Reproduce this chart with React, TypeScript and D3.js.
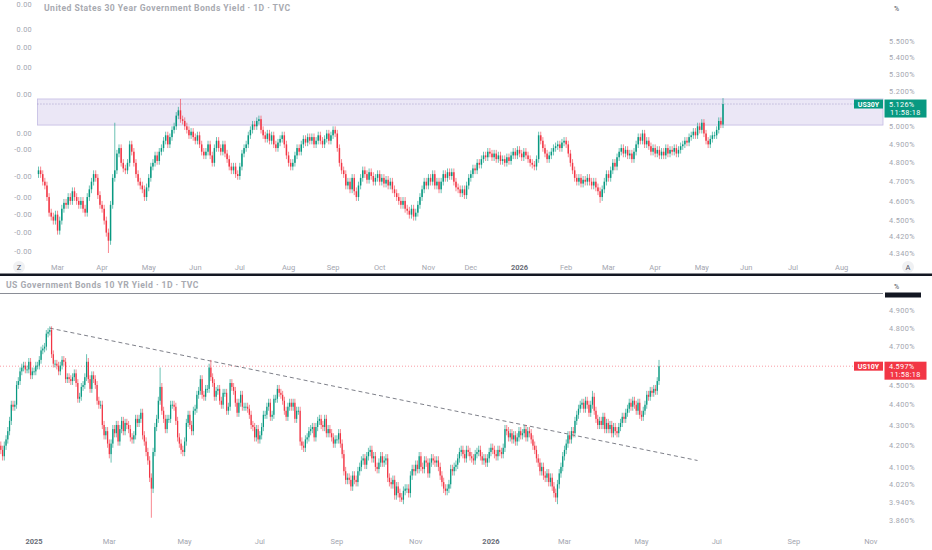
import React from "react";
import * as d3 from "d3";

// ---------------- DATA ----------------
// US 30Y daily closes (%), one row per week, starting Tue 2025-02-18
const us30Start = "2025-02-18";
const us30FirstOpen = 4.74;
const us30Close: number[] = [
  4.76, 4.74, 4.70, 4.68,
  4.62, 4.54, 4.52, 4.50, 4.53,
  4.45, 4.50, 4.56, 4.59, 4.58,
  4.62, 4.60, 4.65, 4.62, 4.60,
  4.58, 4.60, 4.56, 4.54, 4.62,
  4.66, 4.70, 4.74, 4.72, 4.63,
  4.58, 4.56, 4.50, 4.44, 4.40,
  4.58, 4.72, 4.76, 4.85, 4.88,
  4.80, 4.77, 4.76, 4.80, 4.90,
  4.86, 4.80, 4.74, 4.70, 4.68,
  4.66, 4.62, 4.67, 4.72, 4.78,
  4.80, 4.84, 4.81, 4.86, 4.88,
  4.92, 4.95, 4.90, 4.94, 4.98,
  5.00, 5.06, 5.09, 5.04, 5.03,
  5.00, 4.98, 4.95, 4.97, 4.94,
  4.92, 4.95, 4.90, 4.86, 4.84,
  4.86, 4.90, 4.84, 4.80, 4.88,
  4.92, 4.88, 4.86, 4.90, 4.85,
  4.82, 4.78, 4.76, 4.78, 4.74,
  4.73, 4.78, 4.85, 4.88, 4.90,
  4.95, 4.98, 5.01, 5.00, 5.03,
  5.04, 4.98, 4.95, 4.93, 4.96,
  4.92, 4.95, 4.90, 4.88, 4.91,
  4.93, 4.95, 4.90, 4.84, 4.80,
  4.78, 4.80, 4.84, 4.88, 4.86,
  4.90, 4.93, 4.91, 4.94, 4.92,
  4.94, 4.90, 4.92, 4.95, 4.92,
  4.90, 4.93, 4.96, 4.92, 4.95,
  4.98, 4.96, 4.88, 4.80, 4.76,
  4.74, 4.68, 4.70, 4.66, 4.72,
  4.65, 4.62, 4.68, 4.72, 4.76,
  4.74, 4.71, 4.75, 4.73, 4.70,
  4.72, 4.74, 4.70, 4.72, 4.69,
  4.71, 4.68, 4.70, 4.66, 4.64,
  4.62, 4.60, 4.58, 4.60, 4.56,
  4.55, 4.53, 4.56, 4.52, 4.54,
  4.58, 4.62, 4.66, 4.70, 4.68,
  4.72, 4.70, 4.74, 4.68, 4.70,
  4.66, 4.70, 4.74, 4.72, 4.75,
  4.73, 4.75, 4.70, 4.67, 4.66,
  4.64, 4.66, 4.63, 4.68, 4.72,
  4.74, 4.77, 4.76, 4.80, 4.79,
  4.82, 4.84, 4.83, 4.86, 4.85,
  4.83, 4.85, 4.82, 4.84, 4.81,
  4.82, 4.80, 4.83, 4.81, 4.84,
  4.86, 4.84, 4.87, 4.85, 4.83,
  4.86, 4.84, 4.82, 4.80, 4.79,
  4.78, 4.82, 4.95, 4.92, 4.88,
  4.85, 4.82, 4.84, 4.86, 4.88,
  4.89, 4.90, 4.88, 4.91, 4.92,
  4.90, 4.85, 4.80, 4.76, 4.72,
  4.70, 4.72, 4.69, 4.71, 4.70,
  4.72, 4.70, 4.68, 4.70, 4.67,
  4.65, 4.62, 4.66, 4.70, 4.74,
  4.72, 4.76, 4.80, 4.78, 4.83,
  4.86, 4.88, 4.85, 4.87, 4.84,
  4.85, 4.82, 4.86, 4.90, 4.94,
  4.92, 4.96, 4.90, 4.92, 4.89,
  4.86, 4.88, 4.85, 4.87, 4.84,
  4.86, 4.84, 4.88, 4.85, 4.87,
  4.86, 4.88, 4.85, 4.87, 4.89,
  4.90, 4.92, 4.91, 4.94, 4.95,
  4.97, 4.95, 5.00, 4.98, 5.02,
  4.96, 4.92, 4.90, 4.93, 4.95,
  4.95, 4.98, 5.03, 5.01, 5.126,
];
const us30Spikes = [
  { date: "2025-04-04", low: 4.34 },
  { date: "2025-04-09", high: 5.02 },
  { date: "2025-05-22", high: 5.155 },
  { date: "2025-07-15", high: 5.06 },
  { date: "2025-09-02", high: 5.0 },
  { date: "2025-10-22", low: 4.51 },
  { date: "2026-02-24", low: 4.59 },
  { date: "2026-05-15", high: 5.16 },
];
const us30Last = 5.126;
const us30Zone = [5.007, 5.155];
const us30Ticks = [5.5, 5.4, 5.3, 5.2, 5.0, 4.9, 4.8, 4.7, 4.6, 4.5, 4.42, 4.34];
const us30LeftTicks = [5.73, 5.57, 5.46, 5.34, 5.18, 4.96, 4.87, 4.73, 4.62, 4.53, 4.44, 4.35];
const us30LeftLabels = ["0.00", "0.00", "0.00", "0.00", "0.00", "0.00", "-0.00", "-0.00", "-0.00", "-0.00", "-0.00", "-0.00"];

// US 10Y daily closes (%), one row per week, starting Thu 2024-12-05
const us10Start = "2024-12-05";
const us10FirstOpen = 4.2;
const us10Close: number[] = [
  4.18, 4.15,
  4.20, 4.23, 4.27, 4.32, 4.40,
  4.39, 4.40, 4.50, 4.52, 4.57,
  4.59, 4.60, 4.58, 4.58, 4.62,
  4.55, 4.57, 4.57, 4.60, 4.60,
  4.63, 4.68, 4.69, 4.70, 4.77,
  4.78, 4.79, 4.66, 4.61, 4.61,
  4.60, 4.57, 4.60, 4.63, 4.62,
  4.53, 4.54, 4.53, 4.52, 4.54,
  4.56, 4.51, 4.43, 4.44, 4.49,
  4.50, 4.54, 4.62, 4.53, 4.48,
  4.55, 4.53, 4.50, 4.42, 4.40,
  4.40, 4.30, 4.25, 4.27, 4.21,
  4.16, 4.21, 4.28, 4.26, 4.30,
  4.22, 4.28, 4.32, 4.27, 4.31,
  4.30, 4.28, 4.24, 4.23, 4.25,
  4.33, 4.31, 4.33, 4.36, 4.25,
  4.22, 4.17, 4.13, 4.05, 4.00,
  4.17, 4.29, 4.33, 4.42, 4.49,
  4.37, 4.33, 4.28, 4.33, 4.33,
  4.40, 4.40, 4.39, 4.32, 4.24,
  4.21, 4.18, 4.17, 4.22, 4.31,
  4.35, 4.30, 4.27, 4.37, 4.38,
  4.45, 4.47, 4.53, 4.45, 4.44,
  4.48, 4.48, 4.59, 4.54, 4.51,
  4.44, 4.47, 4.48, 4.42, 4.40,
  4.46, 4.46, 4.37, 4.39, 4.51,
  4.49, 4.47, 4.41, 4.36, 4.41,
  4.45, 4.39, 4.39, 4.39, 4.38,
  4.35, 4.30, 4.29, 4.24, 4.28,
  4.23, 4.25, 4.29, 4.35, 4.35,
  4.39, 4.41, 4.34, 4.35, 4.43,
  4.43, 4.48, 4.46, 4.45, 4.42,
  4.37, 4.34, 4.39, 4.41, 4.39,
  4.41, 4.33, 4.37, 4.37, 4.22,
  4.20, 4.19, 4.23, 4.24, 4.27,
  4.28, 4.29, 4.24, 4.29, 4.32,
  4.33, 4.30, 4.29, 4.33, 4.26,
  4.28, 4.26, 4.24, 4.21, 4.23,
  4.23, 4.26, 4.21, 4.16, 4.08,
  4.04, 4.05, 4.04, 4.01, 4.06,
  4.04, 4.03, 4.08, 4.10, 4.13,
  4.14, 4.11, 4.15, 4.17, 4.18,
  4.14, 4.15, 4.10, 4.09, 4.12,
  4.15, 4.12, 4.13, 4.14, 4.05,
  4.03, 4.02, 4.04, 3.97, 4.01,
  3.98, 3.96, 3.95, 3.99, 4.00,
  4.00, 3.98, 4.06, 4.09, 4.08,
  4.11, 4.09, 4.15, 4.10, 4.09,
  4.13, 4.12, 4.07, 4.12, 4.14,
  4.13, 4.12, 4.13, 4.10, 4.06,
  4.03, 4.00, 3.99, 4.00, 4.02,
  4.09, 4.08, 4.10, 4.11, 4.14,
  4.17, 4.18, 4.16, 4.14, 4.18,
  4.17, 4.15, 4.14, 4.13, 4.16,
  4.17, 4.18, 4.15, 4.13, 4.14,
  4.12, 4.14, 4.17, 4.19, 4.18,
  4.16, 4.15, 4.18, 4.17, 4.16,
  4.19, 4.28, 4.27, 4.24, 4.26,
  4.23, 4.25, 4.22, 4.24, 4.27,
  4.25, 4.26, 4.28, 4.24, 4.27,
  4.26, 4.23, 4.20, 4.18, 4.14,
  4.12, 4.08, 4.10, 4.06, 4.05,
  4.07, 4.03, 4.05, 4.01, 3.98,
  3.96, 4.02, 4.07, 4.10, 4.15,
  4.18, 4.21, 4.25, 4.23, 4.27,
  4.26, 4.32, 4.35, 4.38, 4.40,
  4.41, 4.38, 4.42, 4.40, 4.36,
  4.40, 4.44, 4.37, 4.33, 4.30,
  4.32, 4.30, 4.34, 4.28, 4.31,
  4.28, 4.30, 4.26, 4.29, 4.27,
  4.26, 4.29, 4.31, 4.34, 4.33,
  4.36, 4.38, 4.41, 4.39, 4.42,
  4.40, 4.37, 4.41, 4.35, 4.34,
  4.37, 4.40, 4.45, 4.44, 4.47,
  4.46, 4.48, 4.47, 4.52, 4.597,
];
const us10Spikes = [
  { date: "2025-02-12", high: 4.66 },
  { date: "2025-03-04", low: 4.12 },
  { date: "2025-04-04", low: 3.87 },
  { date: "2025-04-11", high: 4.59 },
  { date: "2025-05-22", high: 4.63 },
  { date: "2025-10-22", low: 3.94 },
  { date: "2026-02-24", low: 3.93 },
  { date: "2026-03-24", high: 4.47 },
  { date: "2026-05-15", high: 4.63 },
];
const us10Last = 4.597;
const us10Ticks = [4.9, 4.8, 4.7, 4.5, 4.4, 4.3, 4.2, 4.1, 4.02, 3.94, 3.86];
const us10Trend = [
  { date: "2025-01-14", value: 4.8 },
  { date: "2026-06-16", value: 4.13 },
];

// ---------------- HELPERS ----------------
const UP = "#089981";
const DOWN = "#f23645";
const FONT = "Roboto, 'Open Sans', sans-serif";
const AXIS = "#a3a6af";
const fmtKey = d3.utcFormat("%Y-%m-%d");

function weekdays(start: string, end: string): Date[] {
  const out: Date[] = [];
  const d = new Date(start + "T00:00:00Z");
  const e = new Date(end + "T00:00:00Z");
  while (d <= e) {
    const wd = d.getUTCDay();
    if (wd !== 0 && wd !== 6) out.push(new Date(d));
    d.setUTCDate(d.getUTCDate() + 1);
  }
  return out;
}

type Spike = { date: string; high?: number; low?: number };

function buildCandles(dates: Date[], closes: number[], firstOpen: number, spikes: Spike[], pad: number) {
  const sm = new Map(spikes.map((s) => [s.date, s]));
  return closes.map((c, i) => {
    const o = i === 0 ? firstOpen : closes[i - 1];
    const s = sm.get(fmtKey(dates[i]));
    let h = Math.max(o, c) + pad;
    let l = Math.min(o, c) - pad;
    if (s && s.high !== undefined) h = s.high;
    if (s && s.low !== undefined) l = s.low;
    return { i, o, h, l, c };
  });
}

type PanelProps = {
  start: string;
  futureEnd: string;
  closes: number[];
  firstOpen: number;
  spikes: Spike[];
  xFirst: number;
  xLast: number;
  yDomain: [number, number];
  yRange: [number, number];
  clipY: [number, number];
  ticks: number[];
  tickX: number;
  monthEvery: number;
  monthY: number;
  skipFirstMonth: boolean;
  id: string;
};

function useScales(p: PanelProps) {
  const all = weekdays(p.start, p.futureEnd);
  const n = p.closes.length;
  const x = d3.scaleLinear().domain([0, n - 1]).range([p.xFirst, p.xLast]);
  const y = d3.scaleLog().domain(p.yDomain).range(p.yRange);
  const step = x(1) - x(0);
  const dateIndex = new Map(all.map((d, i) => [fmtKey(d), i]));
  return { all, x, y, step, dateIndex };
}

function Candles({ p, x, y, step, dates }: any) {
  const data = buildCandles(dates, p.closes, p.firstOpen, p.spikes, 0.02);
  const bw = Math.max(1, step * 0.7);
  return (
    <g clipPath={`url(#clip-${p.id})`}>
      {data.map((d) => {
        const col = d.c >= d.o ? UP : DOWN;
        const cx = x(d.i);
        const yt = y(Math.max(d.o, d.c));
        const yb = y(Math.min(d.o, d.c));
        return (
          <g key={d.i}>
            <line x1={cx} x2={cx} y1={y(d.h)} y2={y(d.l)} stroke={col} strokeOpacity={0.75} strokeWidth={0.8} />
            <rect x={cx - bw / 2} y={yt} width={bw} height={Math.max(0.9, yb - yt)} fill={col} />
          </g>
        );
      })}
    </g>
  );
}

function MonthLabels({ all, x, every, y, skipFirst }: any) {
  const seen = new Set<string>();
  const items: { i: number; d: Date }[] = [];
  all.forEach((d: Date, i: number) => {
    const k = `${d.getUTCFullYear()}-${d.getUTCMonth()}`;
    if (!seen.has(k)) {
      seen.add(k);
      items.push({ i, d });
    }
  });
  const list = items.filter((it, j) => !(skipFirst && j === 0) && it.d.getUTCMonth() % every === 0 && x(it.i) < 885);
  return (
    <g fontFamily={FONT} fontSize={7.5} textAnchor="middle">
      {list.map((it) => {
        const jan = it.d.getUTCMonth() === 0;
        return (
          <text
            key={it.i}
            x={x(it.i)}
            y={y}
            fill={jan ? "#6a6d78" : AXIS}
            fontWeight={jan ? 700 : 400}
          >
            {jan ? d3.utcFormat("%Y")(it.d) : d3.utcFormat("%b")(it.d)}
          </text>
        );
      })}
    </g>
  );
}

function PriceTicks({ ticks, y, x }: any) {
  return (
    <g fontFamily={FONT} fontSize={7.3} fill={AXIS} letterSpacing={0.4}>
      {ticks.map((t: number) => (
        <text key={t} x={x} y={y(t) + 2.6}>
          {d3.format(".3f")(t)}%
        </text>
      ))}
    </g>
  );
}

const topP: PanelProps = {
  id: "top",
  start: us30Start,
  futureEnd: "2026-08-31",
  closes: us30Close,
  firstOpen: us30FirstOpen,
  spikes: us30Spikes,
  xFirst: 38.5,
  xLast: 723,
  yDomain: [4.34, 5.5],
  yRange: [253, 41],
  clipY: [14, 262],
  ticks: us30Ticks,
  tickX: 889,
  monthEvery: 1,
  monthY: 270,
  skipFirstMonth: true,
};

const botP: PanelProps = {
  id: "bot",
  start: us10Start,
  futureEnd: "2026-11-30",
  closes: us10Close,
  firstOpen: us10FirstOpen,
  spikes: us10Spikes,
  xFirst: 0.8,
  xLast: 659,
  yDomain: [3.86, 4.9],
  yRange: [520, 310],
  clipY: [294, 534],
  ticks: us10Ticks,
  tickX: 889,
  monthEvery: 2,
  monthY: 544,
  skipFirstMonth: false,
};

export default function App() {
  const T = useScales(topP);
  const B = useScales(botP);
  const topLastY = T.y(us30Last);
  const botLastY = B.y(us10Last);
  const trend = us10Trend.map((p) => ({ x: B.x(B.dateIndex.get(p.date) as number), y: B.y(p.value) }));
  const zoneX0 = T.x(0) - T.step / 2;

  return (
    <div style={{ position: "fixed", left: 0, top: 0, width: 932, height: 550, background: "#fff" }}>
      <svg width={932} height={550} style={{ display: "block" }}>
        <defs>
          <clipPath id="clip-top">
            <rect x={0} y={topP.clipY[0]} width={883} height={topP.clipY[1] - topP.clipY[0]} />
          </clipPath>
          <clipPath id="clip-bot">
            <rect x={0} y={botP.clipY[0]} width={883} height={botP.clipY[1] - botP.clipY[0]} />
          </clipPath>
        </defs>
        <rect x={0} y={0} width={932} height={550} fill="#fff" />

        {/* ---------- TOP PANEL ---------- */}
        <rect
          x={zoneX0}
          y={T.y(us30Zone[1])}
          width={883 - zoneX0}
          height={T.y(us30Zone[0]) - T.y(us30Zone[1])}
          fill="#ebe7f6"
          stroke="#c3bbe3"
          strokeWidth={0.8}
        />
        <line x1={zoneX0} x2={854} y1={topLastY} y2={topLastY} stroke="#8e86bd" strokeWidth={0.7} strokeDasharray="1,2" />
        <Candles p={topP} x={T.x} y={T.y} step={T.step} dates={T.all} />

        <text x={44} y={11} fontFamily={FONT} fontSize={8.6} fontWeight={700} fill="#a8aab1" letterSpacing={0.45}>
          United States 30 Year Government Bonds Yield · 1D · TVC
        </text>
        <g fontFamily={FONT} fontSize={7.3} fill={AXIS} textAnchor="end" letterSpacing={0.3}>
          {us30LeftTicks.map((t, i) => (
            <text key={i} x={32} y={T.y(t) + 2.6}>
              {us30LeftLabels[i]}
            </text>
          ))}
        </g>
        <text x={894} y={11} fontFamily={FONT} fontSize={7} fill="#50535e">%</text>
        <PriceTicks ticks={topP.ticks} y={T.y} x={topP.tickX} />
        <rect x={854} y={topLastY - 4.5} width={29} height={9} fill={UP} />
        <text x={868.5} y={topLastY + 2.6} textAnchor="middle" fontFamily={FONT} fontSize={7} fontWeight={700} fill="#fff">
          US30Y
        </text>
        <rect x={884.5} y={topLastY - 4.5} width={42} height={18} fill={UP} />
        <text x={889} y={topLastY + 2.6} fontFamily={FONT} fontSize={7.3} fill="#fff" letterSpacing={0.3}>
          5.126%
        </text>
        <text x={890} y={topLastY + 11} fontFamily={FONT} fontSize={7.3} fill="#fff" letterSpacing={0.3}>
          11:58:18
        </text>
        <MonthLabels all={T.all} x={T.x} every={topP.monthEvery} y={topP.monthY} skipFirst={topP.skipFirstMonth} />
        <circle cx={19} cy={267} r={6} fill="#f0f1f3" />
        <text x={19} y={269.8} textAnchor="middle" fontFamily={FONT} fontSize={7.5} fill="#50535e">Z</text>
        <circle cx={908} cy={267} r={6} fill="#f0f1f3" />
        <text x={908} y={269.8} textAnchor="middle" fontFamily={FONT} fontSize={7.5} fill="#50535e">A</text>

        {/* separator */}
        <rect x={0} y={273.5} width={932} height={2.5} fill="#131722" />

        {/* ---------- BOTTOM PANEL ---------- */}
        <text x={6} y={288} fontFamily={FONT} fontSize={8.6} fontWeight={700} fill="#a8aab1" letterSpacing={0.45}>
          US Government Bonds 10 YR Yield · 1D · TVC
        </text>
        <line x1={0} x2={883} y1={293.5} y2={293.5} stroke="#8a8d96" strokeWidth={1} />
        <text x={894} y={289} fontFamily={FONT} fontSize={7} fill="#50535e">%</text>
        <rect x={885} y={292.5} width={36} height={5} fill="#131722" />

        <line x1={0} x2={854} y1={botLastY} y2={botLastY} stroke={DOWN} strokeOpacity={0.7} strokeWidth={0.7} strokeDasharray="1,2" />
        <line
          x1={trend[0].x}
          y1={trend[0].y}
          x2={trend[1].x}
          y2={trend[1].y}
          stroke="#5d606b"
          strokeWidth={0.8}
          strokeDasharray="4,3"
        />
        <Candles p={botP} x={B.x} y={B.y} step={B.step} dates={B.all} />
        <PriceTicks ticks={botP.ticks} y={B.y} x={botP.tickX} />
        <rect x={854} y={botLastY - 4.5} width={29} height={9} fill={DOWN} />
        <text x={868.5} y={botLastY + 2.6} textAnchor="middle" fontFamily={FONT} fontSize={7} fontWeight={700} fill="#fff">
          US10Y
        </text>
        <rect x={884.5} y={botLastY - 4.5} width={42} height={18} fill={DOWN} />
        <text x={889} y={botLastY + 2.6} fontFamily={FONT} fontSize={7.3} fill="#fff" letterSpacing={0.3}>
          4.597%
        </text>
        <text x={890} y={botLastY + 11} fontFamily={FONT} fontSize={7.3} fill="#fff" letterSpacing={0.3}>
          11:58:18
        </text>
        <MonthLabels all={B.all} x={B.x} every={botP.monthEvery} y={botP.monthY} skipFirst={botP.skipFirstMonth} />
      </svg>
    </div>
  );
}
